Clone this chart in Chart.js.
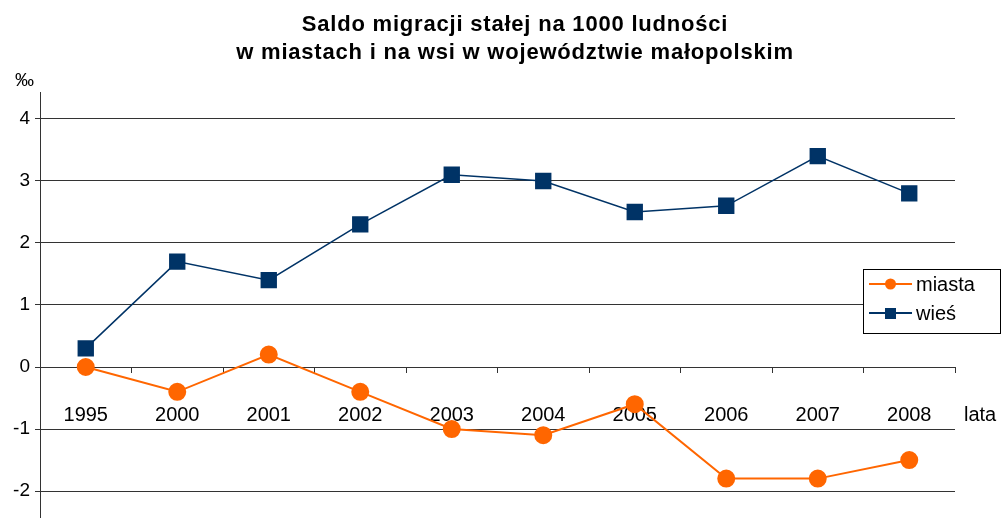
<!DOCTYPE html>
<html lang="pl">
<head>
<meta charset="UTF-8">
<title>Saldo migracji stałej</title>
<style>
  html, body { margin: 0; padding: 0; background: #ffffff; }
  #wrap { width: 1002px; height: 518px; position: relative; }
</style>
</head>
<body>
<div id="wrap"><canvas id="wykres" width="1002" height="518"></canvas></div>

<script src="https://cdn.jsdelivr.net/npm/chart.js"></script>
<script>
  // dane
  const lata = ["1995", "2000", "2001", "2002", "2003", "2004", "2005", "2006", "2007", "2008"];
  const miasta = [0, -0.4, 0.2, -0.4, -1.0, -1.1, -0.6, -1.8, -1.8, -1.5];
  const wies = [0.3, 1.7, 1.4, 2.3, 3.1, 3.0, 2.5, 2.6, 3.4, 2.8];
  const tickiY = [-2, -1, 0, 1, 2, 3, 4];
  const tytul = ["Saldo migracji stałej na 1000 ludności", "w miastach i na wsi w województwie małopolskim"];

  const czcionka = "'Liberation Sans', Arial, sans-serif";
  const kolorMiasta = "#ff6600";
  const kolorWies = "#003366";

  // tytul, opisy osi i legenda rysowane recznie
  const dodatki = {
    id: "dodatki",
    afterDraw(chart) {
      const ctx = chart.ctx;
      ctx.save();
      ctx.fillStyle = "#000";
      ctx.textAlign = "center";
      ctx.textBaseline = "alphabetic";
      ctx.font = "bold 22px " + czcionka;
      ctx.letterSpacing = "0.8px";
      ctx.fillText(tytul[0], 515, 31);
      ctx.fillText(tytul[1], 515, 59);
      ctx.letterSpacing = "0px";

      ctx.textBaseline = "middle";
      ctx.textAlign = "left";
      ctx.font = "19px " + czcionka;
      ctx.fillText("‰", 15, 81);
      ctx.font = "20px " + czcionka;
      ctx.fillText("lata", 964, 415);

      // legenda
      const lx = 863, ly = 269, lw = 137, lh = 64;
      ctx.fillStyle = "#fff";
      ctx.fillRect(lx, ly, lw, lh);
      ctx.strokeStyle = "#000";
      ctx.lineWidth = 1;
      ctx.strokeRect(lx + 0.5, ly + 0.5, lw, lh);
      chart.data.datasets.forEach((ds, i) => {
        const y = ly + 15 + i * 29;
        ctx.strokeStyle = ds.borderColor;
        ctx.lineWidth = 2;
        ctx.beginPath();
        ctx.moveTo(lx + 6, y);
        ctx.lineTo(lx + 49, y);
        ctx.stroke();
        ctx.fillStyle = ds.backgroundColor;
        if (ds.pointStyle === "rect") {
          ctx.fillRect(lx + 22, y - 5, 11, 11);
        } else {
          ctx.beginPath();
          ctx.arc(lx + 27.5, y, 5.5, 0, Math.PI * 2);
          ctx.fill();
        }
        ctx.fillStyle = "#000";
        ctx.font = "20px " + czcionka;
        ctx.fillText(ds.label, lx + 53, y + 1);
      });
      ctx.restore();
    }
  };

  new Chart(document.getElementById("wykres"), {
    type: "line",
    data: {
      labels: lata,
      datasets: [
        {
          label: "miasta",
          data: miasta,
          borderColor: kolorMiasta,
          backgroundColor: kolorMiasta,
          borderWidth: 2,
          pointStyle: "circle",
          pointRadius: 8,
          pointHoverRadius: 8,
          tension: 0
        },
        {
          label: "wieś",
          data: wies,
          borderColor: kolorWies,
          backgroundColor: kolorWies,
          borderWidth: 1.5,
          pointStyle: "rect",
          pointRadius: 10.5,
          pointHoverRadius: 10.5,
          tension: 0
        }
      ]
    },
    options: {
      responsive: false,
      animation: false,
      layout: { autoPadding: false, padding: { left: 0, right: 47, top: 92, bottom: 0 } },
      plugins: {
        legend: { display: false },
        title: { display: false },
        tooltip: { enabled: false }
      },
      scales: {
        x: {
          type: "category",
          offset: true,
          position: { y: 0 },
          afterFit(scale) {
            scale.height = 0;
            scale.paddingLeft = 0;
            scale.paddingRight = 0;
          },
          grid: {
            offset: true,
            drawOnChartArea: false,
            drawTicks: true,
            tickLength: 5,
            color: "#333"
          },
          border: { display: true, color: "#333" },
          ticks: {
            color: "#000",
            font: { size: 20, family: czcionka },
            padding: 31,
            maxRotation: 0
          }
        },
        y: {
          min: -2.435,
          max: 4.435,
          afterBuildTicks(scale) { scale.ticks = tickiY.map(v => ({ value: v })); },
          afterFit(scale) {
            scale.width = 40;
            scale.paddingTop = 0;
            scale.paddingBottom = 0;
          },
          grid: { color: "#333", tickLength: 5, lineWidth: 1 },
          border: { display: true, color: "#333" },
          ticks: {
            color: "#000",
            font: { size: 19, family: czcionka },
            padding: 5
          }
        }
      }
    },
    plugins: [dodatki]
  });
</script>
</body>
</html>
